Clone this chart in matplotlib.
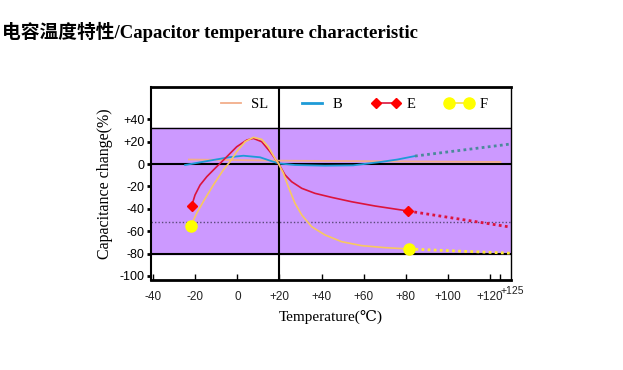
import matplotlib
matplotlib.use("Agg")
import matplotlib.pyplot as plt
import matplotlib.transforms as mtransforms
from matplotlib.lines import Line2D

# data (temperature in C, capacitance change in %)
sl_t = [-23, 20, 125]
sl_c = [4, 3, 1.8]

b_t = [-24.8, -17.7, -11.4, -4, 2.9, 10.8, 15.5, 19.5, 27.4, 41.7, 55, 68, 76, 84.4]
b_c = [-0.9, 1.5, 3.6, 6, 7.4, 6, 3, 0.6, -0.9, -1.5, -1.2, 1.8, 4, 7.1]
b_dot_t = [84.4, 130]
b_dot_c = [7.1, 17.9]

e_t = [-21.7, -20.1, -17.7, -14.5, -9.8, -5.0, -0.3, 4.5, 7.6, 11.6, 15.5, 19.5,
       22.7, 25.8, 30.6, 36.9, 44.8, 54.3, 65.4, 81.2]
e_c = [-37.5, -27.7, -18.8, -11.3, -2.4, 6.5, 15.4, 21.4, 22.9, 19.9, 11, 0.6,
       -9.8, -15.8, -21.7, -26.2, -29.8, -33.7, -37.5, -42]
e_dot_t = [81.2, 128.6]
e_dot_c = [-42, -56]

f_t = [-22, -19.3, -16.2, -11.4, -6.7, -3.5, -0.3, 3.7, 7.6, 11.6, 14.7, 17.9, 19.5,
       21.9, 24.2, 27.4, 30.6, 35.3, 41.7, 49.6, 59.1, 70.2, 81.7]
f_c = [-55, -44, -33.7, -18.8, -5.4, 2, 11, 19.9, 23.8, 22, 15.4, 5, 0.6,
       -8.3, -20.3, -35.1, -45.5, -56, -63.4, -69.4, -72.9, -74.7, -75.9]
f_dot_t = [81.7, 130]
f_dot_c = [-75.9, -79.7]

x_ticks = [-40, -20, 0, 20, 40, 60, 80, 100, 120, 125]
x_labels = ['-40', '-20', '0', '+20', '+40', '+60', '+80', '+100', '+120', '+125']
y_ticks = [40, 20, 0, -20, -40, -60, -80, -100]
y_labels = ['+40', '+20', '0', '-20', '-40', '-60', '-80', '-100']

band = (-80, 32)     # purple tolerance band
ref_level = -51.5    # dotted reference line

serif = ['Liberation Serif', 'DejaVu Serif', 'Noto Sans CJK SC']
sans = ['Liberation Sans', 'DejaVu Sans']

fig = plt.figure(figsize=(6.23, 3.70), dpi=100)
ax = fig.add_axes([0.2424, 0.2432, 0.5778, 0.5216])

ax.axhspan(band[0], band[1], color='#CC99FF', zorder=0)
ax.axhline(band[1], color='black', lw=1.0, zorder=1)
ax.axhline(band[0], color='black', lw=1.5, zorder=1)
ax.axhline(0, color='black', lw=1.5, zorder=1)
ax.axvline(20, color='black', lw=1.5, zorder=1)
ax.axhline(ref_level, color='#5a4a7a', lw=1.0, ls=(0, (1, 1.5)), zorder=1)

ax.plot(sl_t, sl_c, color='#F2AE8A', lw=1.3, zorder=2)
ax.plot(b_t, b_c, color='#1E9BD7', lw=1.3, zorder=3)
ax.plot(b_dot_t, b_dot_c, color='#4A8A9A', lw=2, ls=(0, (1, 1.2)), zorder=3)
ax.plot(e_t, e_c, color='#DC143C', lw=1.2, zorder=4)
ax.plot(e_dot_t, e_dot_c, color='#DC143C', lw=2, ls=(0, (1, 1.2)), zorder=4)
ax.plot(f_t, f_c, color='#F8C860', lw=1.2, zorder=4)
ax.plot(f_dot_t, f_dot_c, color='#FFE838', lw=2, ls=(0, (1, 1.2)), zorder=4)
ax.plot([e_t[0], e_t[-1]], [e_c[0], e_c[-1]], ls='none', marker='D', ms=5,
        color='#FF0000', zorder=5)
ax.plot([f_t[0], f_t[-1]], [f_c[0], f_c[-1]], ls='none', marker='o', ms=8,
        color='#FFFF00', zorder=5)

ax.set_xlim(-41, 130)
ax.set_ylim(-103.6, 68.75)

ax.set_xticks(x_ticks)
ax.set_xticklabels(x_labels, fontsize=8.5, family=sans, color='#222222')
ax.tick_params(axis='x', direction='in', length=4, width=1, pad=8)
last = ax.get_xticklabels()[-1]
last.set_fontsize(7.5)
last.set_ha('left')
last.set_transform(last.get_transform() +
                   mtransforms.ScaledTranslation(0, 4 / 72, fig.dpi_scale_trans))

ax.set_yticks(y_ticks)
ax.set_yticklabels(y_labels, fontsize=9, family=sans)
ax.tick_params(axis='y', direction='out', length=3, width=2, pad=1.5)

for side, lw in [('top', 2), ('bottom', 2), ('left', 1.5), ('right', 1)]:
    ax.spines[side].set_linewidth(lw)

ax.set_ylabel('Capacitance change(%)', fontsize=11.5, family=serif, labelpad=5)
ax.set_xlabel('Temperature(℃)', fontsize=11, family=serif, labelpad=5)

handles = [
    Line2D([], [], color='#F2AE8A', lw=1.3),
    Line2D([], [], color='#1E9BD7', lw=2),
    Line2D([], [], color='#DC143C', lw=1.2, marker='D', ms=5,
           markerfacecolor='#FF0000', markeredgecolor='#FF0000'),
    Line2D([], [], color='#F8E040', lw=1.2, marker='o', ms=8,
           markerfacecolor='#FFFF00', markeredgecolor='#FFFF00'),
]
ax.legend(handles, ['SL', 'B', 'E', 'F'], ncol=4, frameon=False, numpoints=2,
          loc='center', bbox_to_anchor=(0.558, 0.912), handlelength=2.0,
          handletextpad=0.4, columnspacing=2.0, prop={'family': serif, 'size': 10.5})

fig.text(0.003, 0.914, '电容温度特性/Capacitor temperature characteristic',
         fontsize=13.5, fontweight='bold', va='center', ha='left',
         family=['Liberation Serif', 'Noto Sans CJK SC'])

fig.savefig('out.png', dpi=100)
